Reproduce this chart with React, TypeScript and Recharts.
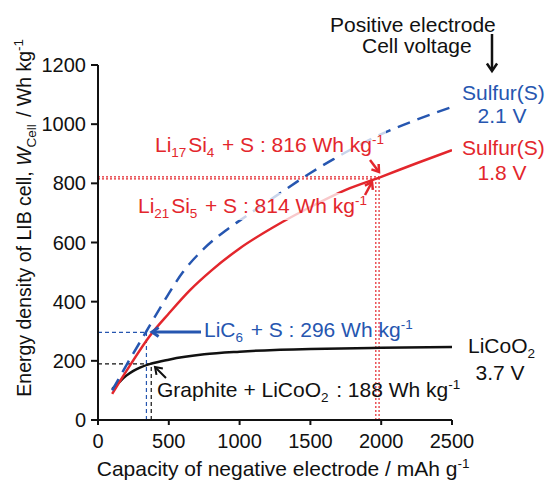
import React from "react";
import { LineChart, Line, XAxis, YAxis, ReferenceLine } from "recharts";

// capacity of negative electrode (mAh/g) and cell energy density (Wh/kg)
const sulfur21X = [100, 200, 342, 450, 600, 750, 900, 1000, 1250, 1500, 1750, 2000, 2250, 2500];
const sulfur21Y = [100, 185, 300, 388, 500, 580, 640, 674, 755, 835, 905, 966, 1015, 1058];

const sulfur18X = [100, 200, 375, 500, 650, 800, 1000, 1250, 1500, 1750, 2000, 2250, 2500];
const sulfur18Y = [88, 165, 290, 360, 439, 505, 580, 655, 720, 778, 822, 868, 912];

const licoo2X = [100, 150, 200, 250, 300, 372, 500, 750, 1000, 1250, 1500, 2000, 2500];
const licoo2Y = [104, 128, 150, 166, 178, 190, 204, 222, 231, 237, 240, 244, 247];

const X_TICKS = [0, 500, 1000, 1500, 2000, 2500];
const Y_TICKS = [0, 200, 400, 600, 800, 1000, 1200];

// marked points: [capacity, energy]
const liC6Point = [342, 296];
const graphitePoint = [376, 190];
const li17Si4Point = [1985, 822];
const li21Si5Point = [1962, 815];

const zip = (xs: number[], ys: number[]) => xs.map((x, i) => ({ x, y: ys[i] }));

const FONT = '"Liberation Sans", Arial, Helvetica, sans-serif';
const RED = "#e3262c";
const BLUE = "#2656b0";
const BLACK = "#111111";

const Arrow = ({ x1, y1, x2, y2, color, w = 2.5, head = 8 }: any) => {
    const a = Math.atan2(y2 - y1, x2 - x1);
    const p1 = [x2 - head * Math.cos(a - 0.6), y2 - head * Math.sin(a - 0.6)];
    const p2 = [x2 - head * Math.cos(a + 0.6), y2 - head * Math.sin(a + 0.6)];
    return (
        <g stroke={color} strokeWidth={w} fill="none" strokeLinecap="butt">
            <line x1={x1} y1={y1} x2={x2 - Math.cos(a)} y2={y2 - Math.sin(a)} />
            <polyline points={`${p1[0]},${p1[1]} ${x2},${y2} ${p2[0]},${p2[1]}`} />
        </g>
    );
};

const Sub = ({ children }: any) => (
    <>
        <tspan fontSize={13.5} dy={5}>{children}</tspan>
        <tspan dy={-5}>{"\u200A"}</tspan>
    </>
);
const Sup = ({ children }: any) => (
    <>
        <tspan fontSize={13.5} dy={-8}>{children}</tspan>
        <tspan dy={8}>{"\u200A"}</tspan>
    </>
);

const Overlay = () => (
    <svg width={547} height={481} style={{ position: "absolute", left: 0, top: 0, pointerEvents: "none" }}
         fontFamily={FONT} fontSize={21}>
        {/* faded backgrounds behind labels */}
        <rect x={150} y={131} width={236} height={27} fill="white" opacity={0.75} />
        <rect x={134} y={193} width={237} height={27} fill="white" opacity={0.75} />

        <text x={330} y={32} fill={BLACK}>Positive electrode</text>
        <text x={362} y={53} fill={BLACK}>Cell voltage</text>
        <Arrow x1={492} y1={34} x2={492} y2={71} color={BLACK} w={2.5} head={9} />

        <text x={462} y={100} fill={BLUE}>Sulfur(S)</text>
        <text x={502} y={123} fill={BLUE} textAnchor="middle">2.1 V</text>
        <text x={462} y={155} fill={RED}>Sulfur(S)</text>
        <text x={502} y={180} fill={RED} textAnchor="middle">1.8 V</text>
        <text x={468} y={353} fill={BLACK}>LiCoO<Sub>2</Sub></text>
        <text x={500} y={380} fill={BLACK} textAnchor="middle">3.7 V</text>

        <text x={155} y={152} fill={RED}>Li<Sub>17</Sub>Si<Sub>4</Sub> + S : 816 Wh kg<Sup>-1</Sup></text>
        <text x={138} y={213} fill={RED}>Li<Sub>21</Sub>Si<Sub>5</Sub> + S : 814 Wh kg<Sup>-1</Sup></text>
        <Arrow x1={370} y1={160} x2={379} y2={172} color={RED} />
        <Arrow x1={365} y1={195} x2={372} y2={182} color={RED} />

        <text x={204} y={337} fill={BLUE}>LiC<Sub>6</Sub> + S : 296 Wh kg<Sup>-1</Sup></text>
        <Arrow x1={201} y1={332} x2={152} y2={332} color={BLUE} w={3} />

        <text x={157} y={397} fill={BLACK}>Graphite + LiCoO<Sub>2</Sub> : 188 Wh kg<Sup>-1</Sup></text>
        <Arrow x1={166} y1={378} x2={155} y2={367} color={BLACK} w={2} />

        <text transform="translate(31,217) rotate(-90)" textAnchor="middle" fill={BLACK} fontSize={19.5}>
            Energy density of LIB cell, <tspan fontStyle="italic">W</tspan><Sub>Cell</Sub> / Wh kg<Sup>-1</Sup>
        </text>
        <text x={284} y={476} textAnchor="middle" fill={BLACK}>
            Capacity of negative electrode / mAh g<Sup>-1</Sup>
        </text>
    </svg>
);

const refSeg = (x: number, y: number, color: string, dash: string) => [
    <ReferenceLine key={`h${x}${y}`} segment={[{ x: 0, y }, { x, y }]} stroke={color} strokeWidth={1.2} strokeDasharray={dash} />,
    <ReferenceLine key={`v${x}${y}`} segment={[{ x, y: 0 }, { x, y }]} stroke={color} strokeWidth={1.2} strokeDasharray={dash} />,
];

export default function App() {
    return (
        <div style={{ position: "absolute", left: 0, top: 0, width: 547, height: 481, background: "white" }}>
            <LineChart width={547} height={481} margin={{ top: 65, right: 95, bottom: 21, left: 38 }}>
                <XAxis
                    type="number"
                    dataKey="x"
                    domain={[0, 2500]}
                    ticks={X_TICKS}
                    height={40}
                    stroke={BLACK}
                    strokeWidth={2}
                    tickSize={5}
                    tickMargin={9}
                    tick={{ fill: BLACK, fontSize: 20, fontFamily: FONT }}
                    allowDataOverflow
                />
                <YAxis
                    type="number"
                    dataKey="y"
                    domain={[0, 1200]}
                    ticks={Y_TICKS}
                    width={60}
                    stroke={BLACK}
                    strokeWidth={2}
                    tickSize={7}
                    tickMargin={5}
                    tick={{ fill: BLACK, fontSize: 20, fontFamily: FONT }}
                    allowDataOverflow
                />
                {refSeg(liC6Point[0], liC6Point[1], BLUE, "4 3")}
                {refSeg(graphitePoint[0], graphitePoint[1], BLACK, "4 3")}
                {refSeg(li17Si4Point[0], li17Si4Point[1], RED, "2 2")}
                {refSeg(li21Si5Point[0], li21Si5Point[1], RED, "2 2")}
                <Line data={zip(licoo2X, licoo2Y)} dataKey="y" type="monotone" stroke={BLACK} strokeWidth={2.5} dot={false} isAnimationActive={false} />
                <Line data={zip(sulfur18X, sulfur18Y)} dataKey="y" type="monotone" stroke={RED} strokeWidth={2.5} dot={false} isAnimationActive={false} />
                <Line data={zip(sulfur21X, sulfur21Y)} dataKey="y" type="monotone" stroke={BLUE} strokeWidth={2.5} strokeDasharray="13 8" dot={false} isAnimationActive={false} />
            </LineChart>
            <Overlay />
        </div>
    );
}
